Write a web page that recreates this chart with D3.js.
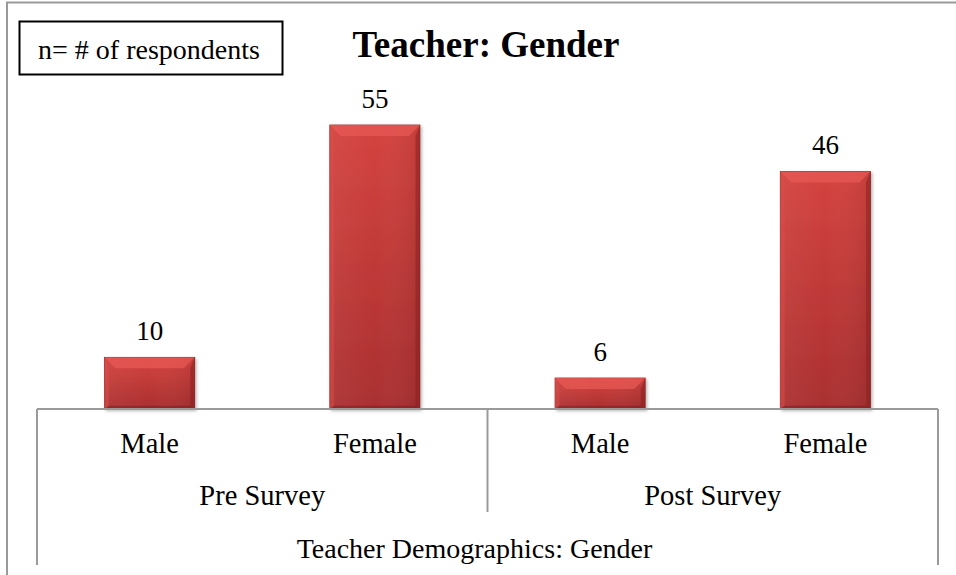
<!DOCTYPE html>
<html><head><meta charset="utf-8">
<script src="https://cdn.jsdelivr.net/npm/d3@7"></script>
<style>body{margin:0;background:#fff}svg{display:block}svg text{font-family:"Liberation Serif","DejaVu Serif",serif}</style>
</head><body>
<script>
const groups = ["Pre Survey", "Post Survey"];
const genders = ["Male", "Female"];
const values = [10, 55, 6, 46];
const title = "Teacher: Gender";
const axisTitle = "Teacher Demographics: Gender";
const legendText = "n= # of respondents";

const W = 956, H = 575;
const svg = d3.select("body").append("svg").attr("width", W).attr("height", H);

svg.append("line").attr("x1",6).attr("x2",W).attr("y1",2.5).attr("y2",2.5).attr("stroke","#9a9a9a").attr("stroke-width",2);
svg.append("line").attr("x1",7).attr("x2",7).attr("y1",2).attr("y2",H).attr("stroke","#9a9a9a").attr("stroke-width",2);

const left = 37, right = 938, base = 409;
const cats = [];
groups.forEach(g => genders.forEach(s => cats.push(g + "|" + s)));
const x = d3.scaleBand().domain(cats).range([left, right]).paddingInner(0.6).paddingOuter(0.3);
const y = d3.scaleLinear().domain([0, 55]).range([base, 125]);

const defs = svg.append("defs");
const gv = defs.append("linearGradient").attr("id","gv").attr("x1",0).attr("x2",0).attr("y1",0).attr("y2",1);
gv.append("stop").attr("offset","0%").attr("stop-color","#d4433f");
gv.append("stop").attr("offset","100%").attr("stop-color","#aa2f30");
const gh = defs.append("linearGradient").attr("id","gh").attr("x1",0).attr("x2",1).attr("y1",0).attr("y2",0);
gh.append("stop").attr("offset","0%").attr("stop-color","#ffffff").attr("stop-opacity",0.05);
gh.append("stop").attr("offset","50%").attr("stop-color","#ffffff").attr("stop-opacity",0);
gh.append("stop").attr("offset","100%").attr("stop-color","#000000").attr("stop-opacity",0.08);
const f = defs.append("filter").attr("id","sh").attr("x","-10%").attr("y","-10%").attr("width","130%").attr("height","130%");
f.append("feDropShadow").attr("dx",1.5).attr("dy",1.5).attr("stdDeviation",1.5).attr("flood-color","#000").attr("flood-opacity",0.3);

const bars = svg.append("g");
cats.forEach((c, i) => {
  const x0 = x(c), w = x.bandwidth(), y0 = y(values[i]), h = base - y0;
  const g = bars.append("g");
  g.append("rect").attr("x",x0).attr("y",y0).attr("width",w).attr("height",h).attr("fill","url(#gv)").attr("stroke","#932828").attr("stroke-width",0.8).attr("filter","url(#sh)");
  g.append("rect").attr("x",x0).attr("y",y0).attr("width",w).attr("height",h).attr("fill","url(#gh)");
  const b = Math.min(11, h/2);
  g.append("polygon").attr("points",[[x0,y0],[x0+w,y0],[x0+w-b,y0+b],[x0+b,y0+b]].map(p=>p.join(",")).join(" ")).attr("fill","#e85a55").attr("opacity",0.7);
  g.append("polygon").attr("points",[[x0,y0],[x0+b*0.4,y0+b],[x0+b*0.4,base-b*0.3],[x0,base]].map(p=>p.join(",")).join(" ")).attr("fill","#dc4c47").attr("opacity",0.5);
  g.append("polygon").attr("points",[[x0+w,y0],[x0+w-b*0.4,y0+b],[x0+w-b*0.4,base-b*0.3],[x0+w,base]].map(p=>p.join(",")).join(" ")).attr("fill","#8a2020").attr("opacity",0.55);
  g.append("polygon").attr("points",[[x0,base],[x0+w,base],[x0+w-b*0.4,base-b*0.3],[x0+b*0.4,base-b*0.3]].map(p=>p.join(",")).join(" ")).attr("fill","#7a1c1c").attr("opacity",0.5);
  g.append("text").attr("x",x0+w/2).attr("y",y0-17).attr("text-anchor","middle").attr("font-size",27).attr("fill","#000").text(values[i]);
});

const ax = svg.append("g").attr("stroke","#9a9a9a").attr("stroke-width",2);
ax.append("line").attr("x1",left).attr("x2",right).attr("y1",base).attr("y2",base);
ax.append("line").attr("x1",left).attr("x2",left).attr("y1",base).attr("y2",565);
ax.append("line").attr("x1",right).attr("x2",right).attr("y1",base).attr("y2",565);
const gw = (right-left)/groups.length;
for (let k=1;k<groups.length;k++) ax.append("line").attr("x1",left+gw*k).attr("x2",left+gw*k).attr("y1",base).attr("y2",512);

cats.forEach((c,i) => {
  svg.append("text").attr("x",x(c)+x.bandwidth()/2).attr("y",453).attr("text-anchor","middle").attr("font-size",28.5).attr("fill","#000").text(c.split("|")[1]);
});
groups.forEach((g,k) => {
  svg.append("text").attr("x",left+gw*k+gw/2).attr("y",505).attr("text-anchor","middle").attr("font-size",28.5).attr("fill","#000").text(g);
});
svg.append("text").attr("x",(left+right)/2 - 13).attr("y",558).attr("text-anchor","middle").attr("font-size",28).attr("fill","#000").text(axisTitle);

svg.append("text").attr("x",486).attr("y",57).attr("text-anchor","middle").attr("font-size",37).attr("font-weight","bold").attr("fill","#000").text(title);

svg.append("rect").attr("x",19.5).attr("y",21.5).attr("width",263).attr("height",53).attr("fill","#fff").attr("stroke","#000").attr("stroke-width",2);
svg.append("text").attr("x",149).attr("y",59).attr("text-anchor","middle").attr("font-size",28).attr("fill","#000").text(legendText);
</script>
</body></html>
